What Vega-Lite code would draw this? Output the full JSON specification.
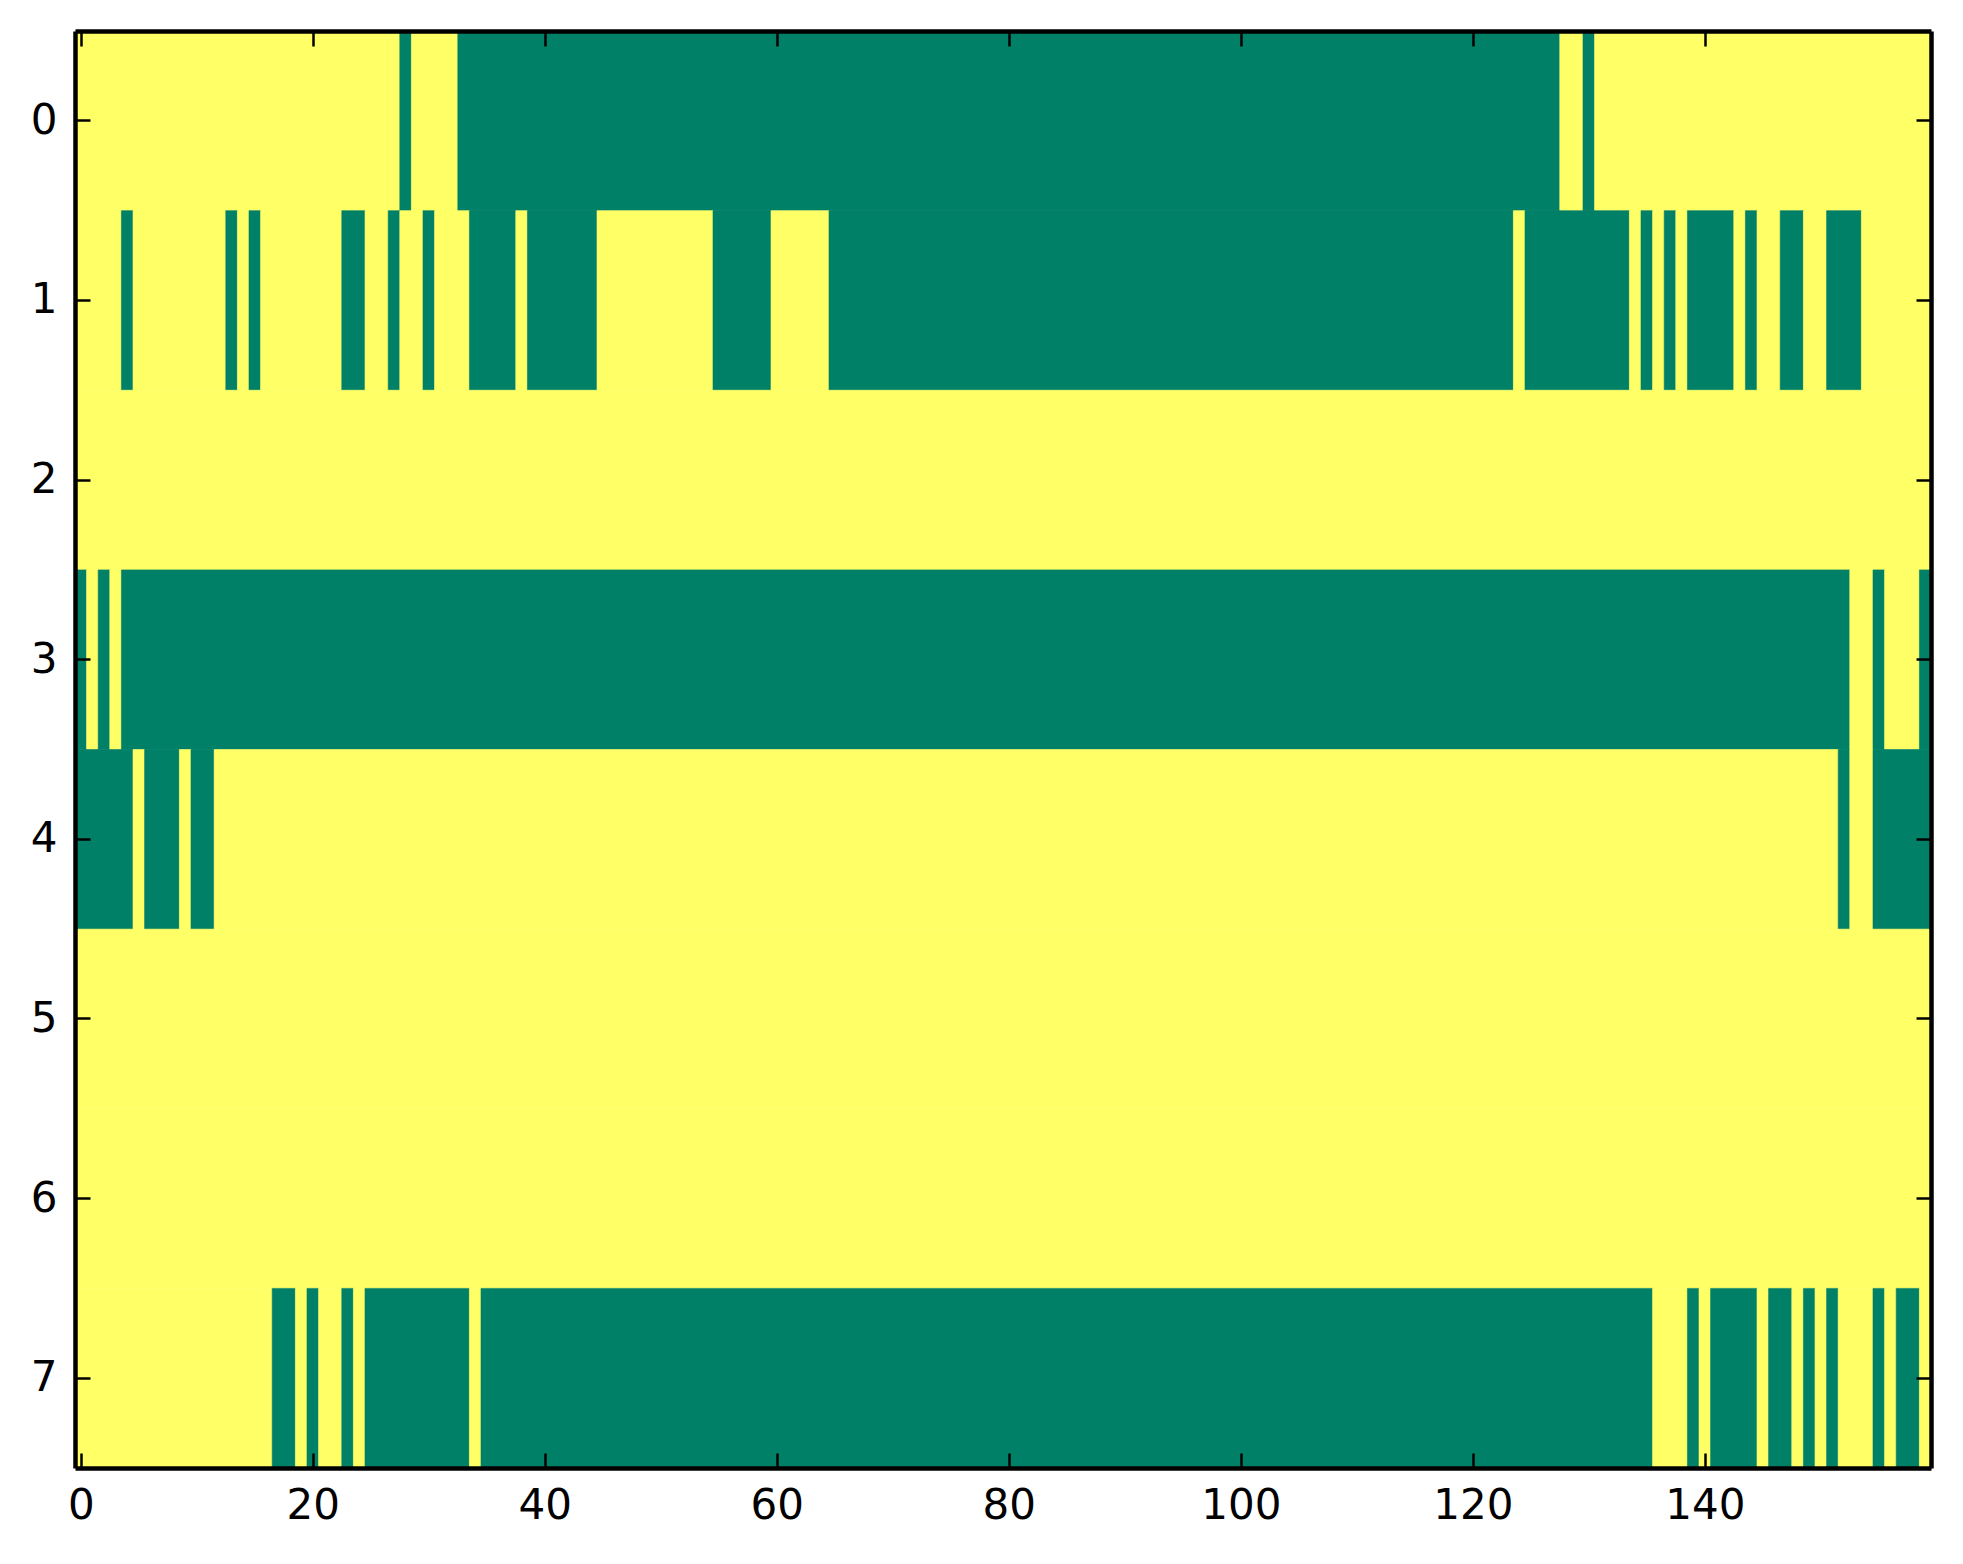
{
  "$schema": "https://vega.github.io/schema/vega-lite/v6.json",
  "width": 1856,
  "height": 1437,
  "autosize": {"type": "none"},
  "padding": {"left": 75, "top": 31, "right": 32, "bottom": 96},
  "background": "white",
  "config": {"view": {"stroke": null}},
  "data": {
    "values": [
      {"row": 0, "start": 0, "end": 27, "v": 1},
      {"row": 0, "start": 28, "end": 28, "v": 0},
      {"row": 0, "start": 29, "end": 32, "v": 1},
      {"row": 0, "start": 33, "end": 127, "v": 0},
      {"row": 0, "start": 128, "end": 129, "v": 1},
      {"row": 0, "start": 130, "end": 130, "v": 0},
      {"row": 0, "start": 131, "end": 159, "v": 1},

      {"row": 1, "start": 0, "end": 3, "v": 1},
      {"row": 1, "start": 4, "end": 4, "v": 0},
      {"row": 1, "start": 5, "end": 12, "v": 1},
      {"row": 1, "start": 13, "end": 13, "v": 0},
      {"row": 1, "start": 14, "end": 14, "v": 1},
      {"row": 1, "start": 15, "end": 15, "v": 0},
      {"row": 1, "start": 16, "end": 22, "v": 1},
      {"row": 1, "start": 23, "end": 24, "v": 0},
      {"row": 1, "start": 25, "end": 26, "v": 1},
      {"row": 1, "start": 27, "end": 27, "v": 0},
      {"row": 1, "start": 28, "end": 29, "v": 1},
      {"row": 1, "start": 30, "end": 30, "v": 0},
      {"row": 1, "start": 31, "end": 33, "v": 1},
      {"row": 1, "start": 34, "end": 37, "v": 0},
      {"row": 1, "start": 38, "end": 38, "v": 1},
      {"row": 1, "start": 39, "end": 44, "v": 0},
      {"row": 1, "start": 45, "end": 54, "v": 1},
      {"row": 1, "start": 55, "end": 59, "v": 0},
      {"row": 1, "start": 60, "end": 64, "v": 1},
      {"row": 1, "start": 65, "end": 123, "v": 0},
      {"row": 1, "start": 124, "end": 124, "v": 1},
      {"row": 1, "start": 125, "end": 133, "v": 0},
      {"row": 1, "start": 134, "end": 134, "v": 1},
      {"row": 1, "start": 135, "end": 135, "v": 0},
      {"row": 1, "start": 136, "end": 136, "v": 1},
      {"row": 1, "start": 137, "end": 137, "v": 0},
      {"row": 1, "start": 138, "end": 138, "v": 1},
      {"row": 1, "start": 139, "end": 142, "v": 0},
      {"row": 1, "start": 143, "end": 143, "v": 1},
      {"row": 1, "start": 144, "end": 144, "v": 0},
      {"row": 1, "start": 145, "end": 146, "v": 1},
      {"row": 1, "start": 147, "end": 148, "v": 0},
      {"row": 1, "start": 149, "end": 150, "v": 1},
      {"row": 1, "start": 151, "end": 153, "v": 0},
      {"row": 1, "start": 154, "end": 159, "v": 1},

      {"row": 2, "start": 0, "end": 159, "v": 1},

      {"row": 3, "start": 0, "end": 0, "v": 0},
      {"row": 3, "start": 1, "end": 1, "v": 1},
      {"row": 3, "start": 2, "end": 2, "v": 0},
      {"row": 3, "start": 3, "end": 3, "v": 1},
      {"row": 3, "start": 4, "end": 152, "v": 0},
      {"row": 3, "start": 153, "end": 154, "v": 1},
      {"row": 3, "start": 155, "end": 155, "v": 0},
      {"row": 3, "start": 156, "end": 158, "v": 1},
      {"row": 3, "start": 159, "end": 159, "v": 0},

      {"row": 4, "start": 0, "end": 4, "v": 0},
      {"row": 4, "start": 5, "end": 5, "v": 1},
      {"row": 4, "start": 6, "end": 8, "v": 0},
      {"row": 4, "start": 9, "end": 9, "v": 1},
      {"row": 4, "start": 10, "end": 11, "v": 0},
      {"row": 4, "start": 12, "end": 151, "v": 1},
      {"row": 4, "start": 152, "end": 152, "v": 0},
      {"row": 4, "start": 153, "end": 154, "v": 1},
      {"row": 4, "start": 155, "end": 159, "v": 0},

      {"row": 5, "start": 0, "end": 159, "v": 1},
      {"row": 6, "start": 0, "end": 159, "v": 1},

      {"row": 7, "start": 0, "end": 16, "v": 1},
      {"row": 7, "start": 17, "end": 18, "v": 0},
      {"row": 7, "start": 19, "end": 19, "v": 1},
      {"row": 7, "start": 20, "end": 20, "v": 0},
      {"row": 7, "start": 21, "end": 22, "v": 1},
      {"row": 7, "start": 23, "end": 23, "v": 0},
      {"row": 7, "start": 24, "end": 24, "v": 1},
      {"row": 7, "start": 25, "end": 33, "v": 0},
      {"row": 7, "start": 34, "end": 34, "v": 1},
      {"row": 7, "start": 35, "end": 135, "v": 0},
      {"row": 7, "start": 136, "end": 138, "v": 1},
      {"row": 7, "start": 139, "end": 139, "v": 0},
      {"row": 7, "start": 140, "end": 140, "v": 1},
      {"row": 7, "start": 141, "end": 144, "v": 0},
      {"row": 7, "start": 145, "end": 145, "v": 1},
      {"row": 7, "start": 146, "end": 147, "v": 0},
      {"row": 7, "start": 148, "end": 148, "v": 1},
      {"row": 7, "start": 149, "end": 149, "v": 0},
      {"row": 7, "start": 150, "end": 150, "v": 1},
      {"row": 7, "start": 151, "end": 151, "v": 0},
      {"row": 7, "start": 152, "end": 154, "v": 1},
      {"row": 7, "start": 155, "end": 155, "v": 0},
      {"row": 7, "start": 156, "end": 156, "v": 1},
      {"row": 7, "start": 157, "end": 158, "v": 0},
      {"row": 7, "start": 159, "end": 159, "v": 1}
    ]
  },
  "layer": [
    {
      "mark": {"type": "rect", "xOffset": -5.8, "x2Offset": 5.8, "strokeWidth": 0.6},
      "encoding": {
        "x": {
          "field": "start",
          "type": "quantitative",
          "scale": {"domain": [-0.5, 159.5], "nice": false, "zero": false},
          "axis": {
            "orient": "bottom",
            "values": [0, 20, 40, 60, 80, 100, 120, 140],
            "title": null,
            "grid": false,
            "zindex": 1,
            "domainColor": "black",
            "domainWidth": 4.5,
            "tickColor": "black",
            "tickWidth": 2.5,
            "tickSize": -15,
            "labelPadding": 32,
            "labelFont": "DejaVu Sans",
            "labelFontSize": 42,
            "labelColor": "black",
            "labelFlush": false,
            "labelOverlap": false
          }
        },
        "x2": {"field": "end"},
        "y": {
          "field": "row",
          "type": "ordinal",
          "scale": {"paddingInner": 0, "paddingOuter": 0},
          "axis": {
            "orient": "left",
            "title": null,
            "grid": false,
            "zindex": 1,
            "labelAngle": 0,
            "domainColor": "black",
            "domainWidth": 4.5,
            "tickColor": "black",
            "tickWidth": 2.5,
            "tickSize": -15,
            "labelPadding": 33,
            "labelFont": "DejaVu Sans",
            "labelFontSize": 42,
            "labelColor": "black"
          }
        },
        "color": {
          "field": "v",
          "type": "nominal",
          "scale": {"domain": [0, 1], "range": ["#008066", "#ffff66"]},
          "legend": null
        },
        "stroke": {
          "field": "v",
          "type": "nominal",
          "scale": {"domain": [0, 1], "range": ["#008066", "#ffff66"]},
          "legend": null
        }
      }
    },
    {
      "mark": {"type": "rect", "xOffset": -5.8, "x2Offset": 5.8, "opacity": 0},
      "encoding": {
        "x": {
          "field": "start",
          "type": "quantitative",
          "scale": {"domain": [-0.5, 159.5], "nice": false, "zero": false},
          "axis": {
            "orient": "top",
            "values": [0, 20, 40, 60, 80, 100, 120, 140],
            "title": null,
            "grid": false,
            "zindex": 1,
            "labels": false,
            "domainColor": "black",
            "domainWidth": 4.5,
            "tickColor": "black",
            "tickWidth": 2.5,
            "tickSize": -15
          }
        },
        "x2": {"field": "end"},
        "y": {
          "field": "row",
          "type": "ordinal",
          "scale": {"paddingInner": 0, "paddingOuter": 0},
          "axis": {
            "orient": "right",
            "title": null,
            "grid": false,
            "zindex": 1,
            "labels": false,
            "domainColor": "black",
            "domainWidth": 4.5,
            "tickColor": "black",
            "tickWidth": 2.5,
            "tickSize": -15
          }
        }
      }
    }
  ],
  "resolve": {"axis": {"x": "independent", "y": "independent"}}
}
